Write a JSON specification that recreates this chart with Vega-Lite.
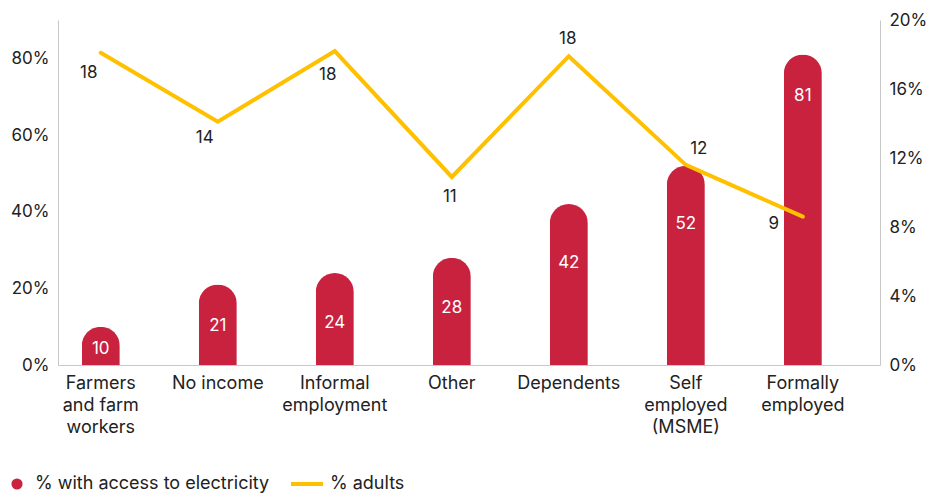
{
  "$schema": "https://vega.github.io/schema/vega-lite/v6.json",
  "autosize": "none",
  "width": 822,
  "height": 345,
  "padding": {"left": 58, "top": 20, "right": 48, "bottom": 128},
  "background": "white",
  "config": {
    "view": {"stroke": null},
    "font": "Inter",
    "text": {"font": "Inter"},
    "axis": {"labelFont": "Inter", "labelFontSize": 17, "labelColor": "#222222", "domainColor": "#C8C8C8", "ticks": false, "grid": false, "title": null},
    "legend": {"labelFont": "Inter", "labelFontSize": 18, "labelColor": "#222222", "labelLimit": 400}
  },
  "data": {
    "values": [
      {"group": "Farmers and farm workers", "electricity": 10, "adults": 18.1},
      {"group": "No income", "electricity": 21, "adults": 14.1},
      {"group": "Informal employment", "electricity": 24, "adults": 18.2},
      {"group": "Other", "electricity": 28, "adults": 10.9},
      {"group": "Dependents", "electricity": 42, "adults": 17.9},
      {"group": "Self employed (MSME)", "electricity": 52, "adults": 11.6},
      {"group": "Formally employed", "electricity": 81, "adults": 8.6}
    ]
  },
  "encoding": {
    "x": {
      "field": "group",
      "type": "nominal",
      "sort": null,
      "scale": {"paddingInner": 0.675, "paddingOuter": 0.35, "align": 0.29},
      "axis": {
        "labelAngle": 0,
        "labelPadding": 9,
        "labelFontSize": 18,
        "labelLineHeight": 22,
        "labelBaseline": "top",
        "domainColor": "#C8C8C8",
        "labelExpr": "datum.value == 'Farmers and farm workers' ? ['Farmers', 'and farm', 'workers'] : datum.value == 'Informal employment' ? ['Informal', 'employment'] : datum.value == 'Self employed (MSME)' ? ['Self', 'employed', '(MSME)'] : datum.value == 'Formally employed' ? ['Formally', 'employed'] : datum.value"
      }
    }
  },
  "layer": [
    {
      "encoding": {
        "y": {
          "field": "electricity",
          "type": "quantitative",
          "scale": {"domain": [0, 90], "nice": false},
          "axis": {"orient": "left", "values": [0, 20, 40, 60, 80], "labelExpr": "datum.value + '%'", "labelPadding": 9}
        }
      },
      "layer": [
        {
          "mark": {"type": "bar", "cornerRadiusTopLeft": 19, "cornerRadiusTopRight": 19},
          "encoding": {
            "fill": {
              "datum": "% with access to electricity",
              "scale": {"range": ["#C8223F"]},
              "legend": {"title": null, "orient": "none", "legendX": -50, "legendY": 455, "symbolType": "circle", "symbolSize": 125, "labelOffset": 9, "padding": 0}
            }
          }
        },
        {
          "transform": [{"filter": "datum.group == 'Farmers and farm workers'"}],
          "mark": {"type": "text", "color": "white", "fontSize": 17, "baseline": "middle", "dy": 22},
          "encoding": {"text": {"field": "electricity", "type": "quantitative"}}
        },
        {
          "transform": [{"filter": "datum.group == 'No income' || datum.group == 'Formally employed'"}],
          "mark": {"type": "text", "color": "white", "fontSize": 17, "baseline": "middle", "dy": 41},
          "encoding": {"text": {"field": "electricity", "type": "quantitative"}}
        },
        {
          "transform": [{"filter": "datum.group == 'Informal employment' || datum.group == 'Other'"}],
          "mark": {"type": "text", "color": "white", "fontSize": 17, "baseline": "middle", "dy": 50},
          "encoding": {"text": {"field": "electricity", "type": "quantitative"}}
        },
        {
          "transform": [{"filter": "datum.group == 'Dependents' || datum.group == 'Self employed (MSME)'"}],
          "mark": {"type": "text", "color": "white", "fontSize": 17, "baseline": "middle", "dy": 58.5},
          "encoding": {"text": {"field": "electricity", "type": "quantitative"}}
        }
      ]
    },
    {
      "encoding": {
        "y": {
          "field": "adults",
          "type": "quantitative",
          "scale": {"domain": [0, 20], "nice": false},
          "axis": {"orient": "right", "values": [0, 4, 8, 12, 16, 20], "labelExpr": "datum.value + '%'", "labelPadding": 9}
        }
      },
      "layer": [
        {
          "mark": {"type": "line", "strokeWidth": 4, "strokeCap": "round", "strokeJoin": "miter"},
          "encoding": {
            "stroke": {
              "datum": "% adults",
              "scale": {"range": ["#FFC000"]},
              "legend": {"title": null, "orient": "none", "legendX": 231, "legendY": 446, "symbolType": "stroke", "symbolSize": 1024, "symbolStrokeWidth": 4, "labelOffset": 5, "padding": 0}
            }
          }
        },
        {
          "transform": [{"filter": "datum.group == 'Farmers and farm workers'"}],
          "mark": {"type": "text", "fontSize": 17, "color": "#222222", "baseline": "middle", "dx": -12, "dy": 20},
          "encoding": {"text": {"field": "adults", "type": "quantitative", "format": ".0f"}}
        },
        {
          "transform": [{"filter": "datum.group == 'No income'"}],
          "mark": {"type": "text", "fontSize": 17, "color": "#222222", "baseline": "middle", "dx": -13, "dy": 16},
          "encoding": {"text": {"field": "adults", "type": "quantitative", "format": ".0f"}}
        },
        {
          "transform": [{"filter": "datum.group == 'Informal employment'"}],
          "mark": {"type": "text", "fontSize": 17, "color": "#222222", "baseline": "middle", "dx": -7, "dy": 24},
          "encoding": {"text": {"field": "adults", "type": "quantitative", "format": ".0f"}}
        },
        {
          "transform": [{"filter": "datum.group == 'Other'"}],
          "mark": {"type": "text", "fontSize": 17, "color": "#222222", "baseline": "middle", "dx": -2, "dy": 20},
          "encoding": {"text": {"field": "adults", "type": "quantitative", "format": ".0f"}}
        },
        {
          "transform": [{"filter": "datum.group == 'Dependents'"}],
          "mark": {"type": "text", "fontSize": 17, "color": "#222222", "baseline": "middle", "dx": -1, "dy": -17},
          "encoding": {"text": {"field": "adults", "type": "quantitative", "format": ".0f"}}
        },
        {
          "transform": [{"filter": "datum.group == 'Self employed (MSME)'"}],
          "mark": {"type": "text", "fontSize": 17, "color": "#222222", "baseline": "middle", "dx": 13, "dy": -16},
          "encoding": {"text": {"field": "adults", "type": "quantitative", "format": ".0f"}}
        },
        {
          "transform": [{"filter": "datum.group == 'Formally employed'"}],
          "mark": {"type": "text", "fontSize": 17, "color": "#222222", "baseline": "middle", "dx": -29, "dy": 7},
          "encoding": {"text": {"field": "adults", "type": "quantitative", "format": ".0f"}}
        }
      ]
    }
  ],
  "resolve": {"scale": {"y": "independent"}}
}
